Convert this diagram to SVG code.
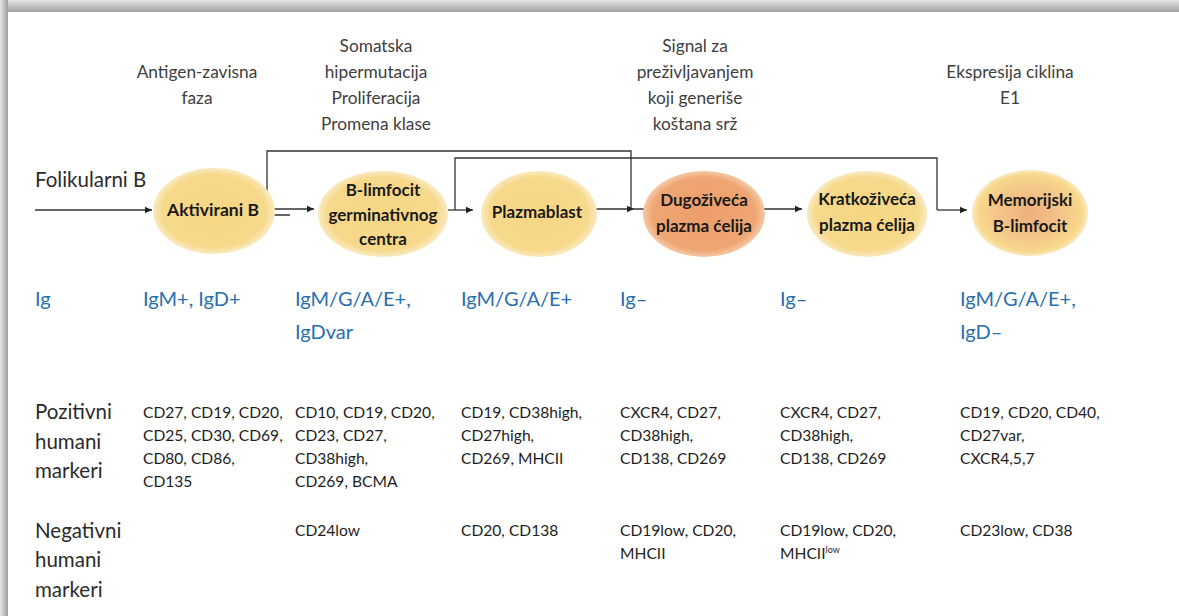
<svg xmlns="http://www.w3.org/2000/svg" width="1179" height="616" viewBox="0 0 1179 616">
<defs>
<linearGradient id="topShade" x1="0" y1="0" x2="0" y2="1">
<stop offset="0" stop-color="#e6e6e6"/>
<stop offset="1" stop-color="#a0a0a0"/>
</linearGradient>
<linearGradient id="leftShade" x1="0" y1="0" x2="1" y2="0">
<stop offset="0" stop-color="#e6e6e6"/>
<stop offset="1" stop-color="#a0a0a0"/>
</linearGradient>
<radialGradient id="yellow" cx="0.5" cy="0.5" r="0.5">
<stop offset="0" stop-color="#f6d683"/>
<stop offset="0.85" stop-color="#f7d98c"/>
<stop offset="1" stop-color="#faeac2"/>
</radialGradient>
<radialGradient id="orange" cx="0.5" cy="0.5" r="0.5">
<stop offset="0" stop-color="#ed9d6a"/>
<stop offset="0.85" stop-color="#efa674"/>
<stop offset="1" stop-color="#f5c9a6"/>
</radialGradient>
<radialGradient id="memory" cx="0.5" cy="0.5" r="0.5">
<stop offset="0" stop-color="#efae7e"/>
<stop offset="0.6" stop-color="#f4c789"/>
<stop offset="0.9" stop-color="#f7d98c"/>
<stop offset="1" stop-color="#faeac2"/>
</radialGradient>
<marker id="arr" markerWidth="8" markerHeight="8" refX="7" refY="4" orient="auto" markerUnits="userSpaceOnUse">
<path d="M0,0.8 L7,4 L0,7.2 Z" fill="#222"/>
</marker>
<style>
.hdr{font-family:Lato,"Liberation Sans",sans-serif;font-size:17.3px;fill:#404040;text-anchor:middle}
.node{font-family:Lato,"Liberation Sans",sans-serif;font-size:17px;font-weight:bold;fill:#1a1a1a;text-anchor:middle}
.lbl{font-family:Lato,"Liberation Sans",sans-serif;font-size:20.5px;fill:#2b2b2b}
.ig{font-family:Lato,"Liberation Sans",sans-serif;font-size:20px;fill:#2a6fae}
.mk{font-family:Lato,"Liberation Sans",sans-serif;font-size:15.6px;fill:#1e1e1e}
.ln{fill:none;stroke:#333;stroke-width:1.3}
.ar{fill:none;stroke:#333;stroke-width:1.3;marker-end:url(#arr)}
</style>
</defs>
<rect x="0" y="0" width="1179" height="616" fill="#ffffff"/>
<rect x="0" y="0" width="1179" height="12" fill="url(#topShade)"/>
<rect x="0" y="0" width="8" height="616" fill="url(#leftShade)"/>
<rect x="8" y="12" width="1171" height="604" fill="#ffffff"/>

<g id="headers">
<text class="hdr" x="197" y="78">Antigen-zavisna</text>
<text class="hdr" x="197" y="104">faza</text>
<text class="hdr" x="376" y="52">Somatska</text>
<text class="hdr" x="376" y="78">hipermutacija</text>
<text class="hdr" x="376" y="104">Proliferacija</text>
<text class="hdr" x="376" y="130">Promena klase</text>
<text class="hdr" x="695" y="52">Signal za</text>
<text class="hdr" x="695" y="78">preživljavanjem</text>
<text class="hdr" x="695" y="104">koji generiše</text>
<text class="hdr" x="695" y="130">koštana srž</text>
<text class="hdr" x="1010" y="78">Ekspresija ciklina</text>
<text class="hdr" x="1010" y="104">E1</text>
</g>

<g id="folikularni">
<text class="lbl" x="35" y="187">Folikularni B</text>
</g>

<g id="connectors">
<line class="ar" x1="35" y1="210" x2="152" y2="210"/>
<line class="ar" x1="268" y1="209" x2="314" y2="209"/>
<polyline class="ln" points="290,215 267,215 267,151 631,151 631,209"/>
<line class="ar" x1="592" y1="209" x2="634" y2="209"/>
<line class="ar" x1="634" y1="209" x2="802" y2="209"/>
<polyline class="ln" points="455,210 455,158 937,158 937,210"/>
<line class="ar" x1="448" y1="210" x2="473" y2="210"/>
<line class="ar" x1="937" y1="210" x2="967" y2="210"/>
</g>

<g id="node-aktivirani">
<ellipse cx="214" cy="211" rx="61" ry="43" fill="url(#yellow)"/>
<text class="node" x="213" y="216" style="font-size:17.5px">Aktivirani B</text>
</g>
<g id="node-germinativni">
<ellipse cx="383" cy="214" rx="65" ry="43" fill="url(#yellow)"/>
<text class="node" x="383" y="196">B-limfocit</text>
<text class="node" x="383" y="221">germinativnog</text>
<text class="node" x="383" y="245">centra</text>
</g>
<g id="node-plazmablast">
<ellipse cx="539" cy="214" rx="58" ry="43" fill="url(#yellow)"/>
<text class="node" x="537" y="218">Plazmablast</text>
</g>
<g id="node-dugo">
<ellipse cx="704" cy="214" rx="61" ry="43" fill="url(#orange)"/>
<text class="node" x="704" y="206">Dugoživeća</text>
<text class="node" x="704" y="232">plazma ćelija</text>
</g>
<g id="node-kratko">
<ellipse cx="867" cy="214" rx="60" ry="43" fill="url(#yellow)"/>
<text class="node" x="867" y="205">Kratkoživeća</text>
<text class="node" x="867" y="231">plazma ćelija</text>
</g>
<g id="node-memorijski">
<ellipse cx="1030" cy="213" rx="58" ry="43" fill="url(#memory)"/>
<text class="node" x="1030" y="206">Memorijski</text>
<text class="node" x="1030" y="232">B-limfocit</text>
</g>

<g id="ig-row">
<text class="ig" x="35" y="306">Ig</text>
<text class="ig" x="143" y="306">IgM+, IgD+</text>
<text class="ig" x="295" y="306">IgM/G/A/E+,</text>
<text class="ig" x="295" y="339">IgDvar</text>
<text class="ig" x="461" y="306">IgM/G/A/E+</text>
<text class="ig" x="620" y="306">Ig–</text>
<text class="ig" x="780" y="306">Ig–</text>
<text class="ig" x="960" y="306">IgM/G/A/E+,</text>
<text class="ig" x="960" y="339">IgD–</text>
</g>

<g id="positive-row">
<text class="lbl" x="35" y="419">Pozitivni</text>
<text class="lbl" x="35" y="449">humani</text>
<text class="lbl" x="35" y="478">markeri</text>
<text class="mk" x="143" y="418">CD27, CD19, CD20,</text>
<text class="mk" x="143" y="441">CD25, CD30, CD69,</text>
<text class="mk" x="143" y="464">CD80, CD86,</text>
<text class="mk" x="143" y="487">CD135</text>
<text class="mk" x="295" y="418">CD10, CD19, CD20,</text>
<text class="mk" x="295" y="441">CD23, CD27,</text>
<text class="mk" x="295" y="464">CD38high,</text>
<text class="mk" x="295" y="487">CD269, BCMA</text>
<text class="mk" x="461" y="418">CD19, CD38high,</text>
<text class="mk" x="461" y="441">CD27high,</text>
<text class="mk" x="461" y="464">CD269, MHCII</text>
<text class="mk" x="620" y="418">CXCR4, CD27,</text>
<text class="mk" x="620" y="441">CD38high,</text>
<text class="mk" x="620" y="464">CD138, CD269</text>
<text class="mk" x="780" y="418">CXCR4, CD27,</text>
<text class="mk" x="780" y="441">CD38high,</text>
<text class="mk" x="780" y="464">CD138, CD269</text>
<text class="mk" x="960" y="418">CD19, CD20, CD40,</text>
<text class="mk" x="960" y="441">CD27var,</text>
<text class="mk" x="960" y="464">CXCR4,5,7</text>
</g>

<g id="negative-row">
<text class="lbl" x="35" y="538">Negativni</text>
<text class="lbl" x="35" y="567">humani</text>
<text class="lbl" x="35" y="597">markeri</text>
<text class="mk" x="295" y="536">CD24low</text>
<text class="mk" x="461" y="536">CD20, CD138</text>
<text class="mk" x="620" y="536">CD19low, CD20,</text>
<text class="mk" x="620" y="559">MHCII</text>
<text class="mk" x="780" y="536">CD19low, CD20,</text>
<text class="mk" x="780" y="559">MHCII<tspan style="font-size:9px" dy="-6">low</tspan></text>
<text class="mk" x="960" y="536">CD23low, CD38</text>
</g>
</svg>
